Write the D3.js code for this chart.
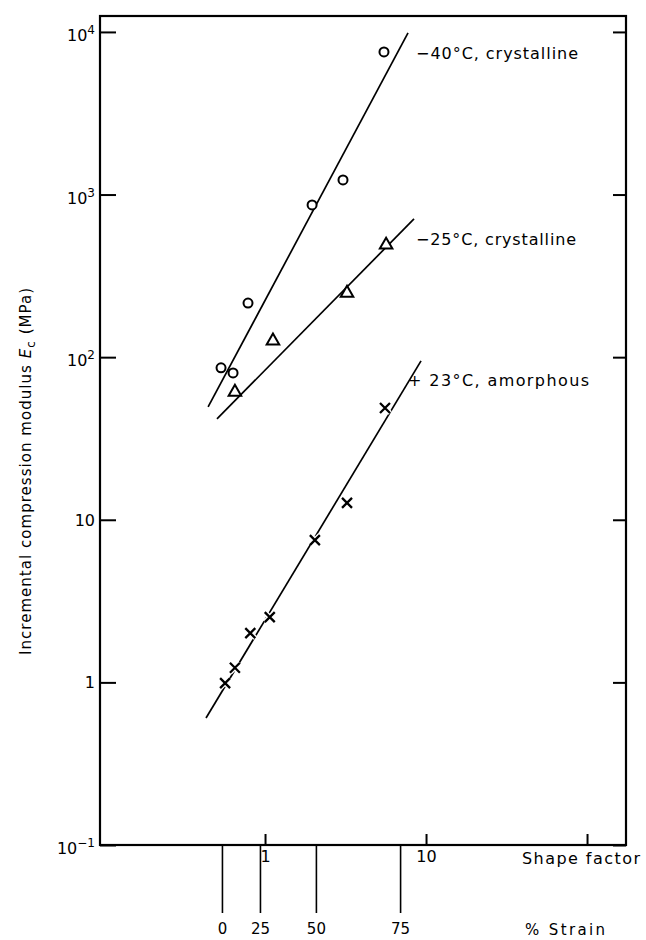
<!DOCTYPE html>
<html>
<head>
<meta charset="utf-8">
<script src="https://cdn.jsdelivr.net/npm/d3@7"></script>
<style>
  body { margin: 0; background: #fff; }
  svg { display: block; font-family: "DejaVu Sans", sans-serif; }
</style>
</head>
<body>
<div class="container"></div>
<script>
// shape factor axis (log)
const shapeTicks = [1, 10, 100];
const shapeTickLabels = ["1", "10", ""];
// % strain scale hung under the chart, at the equivalent shape factor
const strainLabels = ["0", "25", "50", "75"];
const strainAtShape = [0.54, 0.93, 2.07, 6.9];
// modulus axis (log)
const modTicks = [0.1, 1, 10, 100, 1000, 10000];
const modTickBase = ["10", "1", "10", "10", "10", "10"];
const modTickExp = ["\u22121", "", "", "2", "3", "4"];

// -40°C crystalline, circles
const c40Shape = [5.48, 3.05, 1.96, 0.784, 0.533, 0.633];
const c40Mod = [7530, 1230, 863, 215, 86, 80];
// -25°C crystalline, triangles
const c25Shape = [5.65, 3.23, 1.12, 0.65];
const c25Mod = [490, 248, 126, 61];
// +23°C amorphous, crosses
const a23Shape = [5.56, 3.23, 2.04, 1.07, 0.81, 0.65, 0.565];
const a23Mod = [48.7, 12.7, 7.5, 2.52, 2.01, 1.23, 0.99];

// fitted lines, [start, end] as [shape factor, modulus]
const fit40 = [[0.443, 49.4], [7.73, 9860]];
const fit25 = [[0.503, 41.7], [8.42, 708]];
const fit23 = [[0.43, 0.604], [9.31, 94.8]];

const seriesNames = ["\u221240\u00b0C, crystalline", "\u221225\u00b0C, crystalline", "+ 23\u00b0C, amorphous"];

d3.select(".container").call(chart);

function chart(container) {
  //size
  const width = 646;
  const height = 940;
  const margin = { left: 100, right: 20, top: 16, bottom: 95 };

  //scale
  const x = d3
    .scaleLog()
    .domain([0.0944, 174.6])
    .range([margin.left, width - margin.right]);
  const y = d3
    .scaleLog()
    .domain([0.1, 12530])
    .range([height - margin.bottom, margin.top]);

  const svg = container
    .append("svg")
    .attr("width", width)
    .attr("height", height);

  const styleAxis = (g) => {
    g.select(".domain").remove();
    g.selectAll(".tick line").attr("stroke", "#000").attr("stroke-width", 2);
    g.selectAll(".tick text")
      .attr("fill", "#000")
      .attr("font-size", 16)
      .attr("font-family", "DejaVu Sans, sans-serif");
  };

  //frame
  svg
    .append("rect")
    .attr("x", margin.left)
    .attr("y", margin.top)
    .attr("width", width - margin.left - margin.right)
    .attr("height", height - margin.top - margin.bottom)
    .attr("fill", "none")
    .attr("stroke", "#000")
    .attr("stroke-width", 2.2);

  //left axis
  svg
    .append("g")
    .attr("transform", `translate(${margin.left},0)`)
    .call(d3.axisLeft(y).tickValues(modTicks).tickSize(-16).tickPadding(5).tickFormat(""))
    .call(styleAxis)
    .selectAll(".tick text")
    .each(function (d, i) {
      const t = d3.select(this).attr("dy", modTickExp[i] ? "0.55em" : "0.35em");
      t.append("tspan").text(modTickBase[i]);
      if (modTickExp[i])
        t.append("tspan").attr("dy", "-0.6em").attr("font-size", 12).text(modTickExp[i]);
    });

  //right axis
  svg
    .append("g")
    .attr("transform", `translate(${width - margin.right},0)`)
    .call(d3.axisRight(y).tickValues(modTicks).tickSize(-13).tickFormat(""))
    .call(styleAxis);

  //bottom axis
  svg
    .append("g")
    .attr("transform", `translate(0,${height - margin.bottom})`)
    .call(
      d3.axisBottom(x)
        .tickValues(shapeTicks)
        .tickSize(-11)
        .tickPadding(6)
        .tickFormat((d, i) => shapeTickLabels[i])
    )
    .call(styleAxis);

  //strain scale
  svg
    .append("g")
    .attr("transform", `translate(0,${height - margin.bottom})`)
    .call(
      d3.axisBottom(x)
        .tickValues(strainAtShape)
        .tickSize(68)
        .tickPadding(10)
        .tickFormat((d, i) => strainLabels[i])
    )
    .call(styleAxis)
    .call((g) => g.selectAll(".tick line").attr("stroke-width", 1.6))
    .call((g) => g.selectAll(".tick text").attr("font-size", 15));

  svg
    .append("text")
    .attr("x", 522)
    .attr("y", 864)
    .attr("font-size", 16)
    .attr("textLength", 118)
    .attr("lengthAdjust", "spacing")
    .text("Shape factor");

  svg
    .append("text")
    .attr("x", 525)
    .attr("y", 935)
    .attr("font-size", 15)
    .attr("textLength", 80)
    .attr("lengthAdjust", "spacing")
    .text("% Strain");

  //y title
  const yt = svg
    .append("text")
    .attr("transform", "translate(31,655) rotate(-90)")
    .attr("font-size", 15)
    .attr("textLength", 367)
    .attr("lengthAdjust", "spacing");
  yt.append("tspan").text("Incremental  compression  modulus ");
  yt.append("tspan").attr("font-style", "italic").text("E");
  yt.append("tspan").attr("dy", 4).attr("font-size", 12).text("c");
  yt.append("tspan").attr("dy", -4).text(" (MPa)");

  //fit lines
  const line = d3
    .line()
    .x((d) => x(d[0]))
    .y((d) => y(d[1]));

  const fits = [fit40, fit25, fit23];
  svg
    .append("g")
    .selectAll("path")
    .data(fits)
    .join("path")
    .attr("d", line)
    .attr("fill", "none")
    .attr("stroke", "#000")
    .attr("stroke-width", 1.7);

  //labels at the upper end of each line
  const labelOffsets = [[8, 26], [2, 26], [-13, 25]];
  const labelLengths = [162, 160, 181];
  svg
    .append("g")
    .selectAll("text")
    .data(fits)
    .join("text")
    .attr("x", (d, i) => x(d[1][0]) + labelOffsets[i][0])
    .attr("y", (d, i) => y(d[1][1]) + labelOffsets[i][1])
    .attr("font-size", 16)
    .attr("textLength", (d, i) => labelLengths[i])
    .attr("lengthAdjust", "spacing")
    .text((d, i) => seriesNames[i]);

  //markers
  const toPoints = (xs, ys) => xs.map((v, i) => [v, ys[i]]);

  svg
    .append("g")
    .selectAll("circle")
    .data(toPoints(c40Shape, c40Mod))
    .join("circle")
    .attr("cx", (d) => x(d[0]))
    .attr("cy", (d) => y(d[1]))
    .attr("r", 4.5)
    .attr("fill", "#fff")
    .attr("stroke", "#000")
    .attr("stroke-width", 2);

  const tri = d3.symbol().type(d3.symbolTriangle).size(68);
  svg
    .append("g")
    .selectAll("path")
    .data(toPoints(c25Shape, c25Mod))
    .join("path")
    .attr("transform", (d) => `translate(${x(d[0])},${y(d[1])})`)
    .attr("d", tri)
    .attr("fill", "#fff")
    .attr("stroke", "#000")
    .attr("stroke-width", 2)
    .attr("stroke-linejoin", "miter");

  const times = {
    draw(ctx, size) {
      const r = Math.sqrt(size) / 2;
      ctx.moveTo(-r, -r);
      ctx.lineTo(r, r);
      ctx.moveTo(r, -r);
      ctx.lineTo(-r, r);
    },
  };
  const cross = d3.symbol().type(times).size(100);
  const gCross = svg.append("g");
  [["#fff", 5], ["#000", 2.3]].forEach(([c, w]) => {
    gCross
      .append("g")
      .selectAll("path")
      .data(toPoints(a23Shape, a23Mod))
      .join("path")
      .attr("transform", (d) => `translate(${x(d[0])},${y(d[1])})`)
      .attr("d", cross)
      .attr("fill", "none")
      .attr("stroke", c)
      .attr("stroke-width", w);
  });
}
</script>
</body>
</html>
